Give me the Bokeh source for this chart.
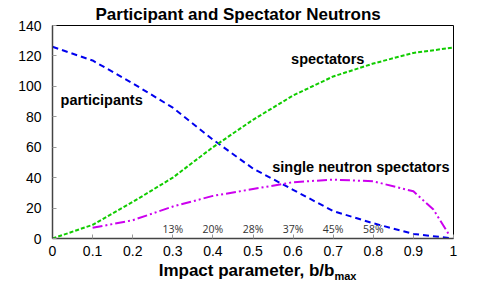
from bokeh.plotting import figure
from bokeh.layouts import column
from bokeh.models import Label, FixedTicker, ColumnDataSource
from bokeh.embed import file_html
from bokeh.resources import INLINE
from bokeh.core.properties import value

# data
b = [0, 0.1, 0.2, 0.3, 0.4, 0.5, 0.6, 0.7, 0.8, 0.9, 1.0]
participants = [126, 117, 102, 86, 65, 46, 32, 18, 10, 3, 0]
spectators = [0, 9, 24, 40, 60, 78, 94, 106.5, 115, 122, 125.5]
b_single = [0.1, 0.2, 0.3, 0.4, 0.5, 0.6, 0.7, 0.8, 0.9, 0.95, 0.99]
single = [7, 12, 21, 28, 32.5, 37, 38.7, 37.6, 31, 19, 2]
pct_x = [0.3, 0.4, 0.5, 0.6, 0.7, 0.8]
pct_labels = ["13%", "20%", "28%", "37%", "45%", "58%"]
x_ticks = [0, 0.1, 0.2, 0.3, 0.4, 0.5, 0.6, 0.7, 0.8, 0.9, 1.0]
x_tick_labels = ["0", "0.1", "0.2", "0.3", "0.4", "0.5", "0.6", "0.7", "0.8", "0.9", "1"]
y_ticks = [0, 20, 40, 60, 80, 100, 120, 140]

FONT = "Liberation Sans"

p = figure(width=469, height=260, x_range=(0, 1), y_range=(0, 140),
           output_backend="svg", toolbar_location=None,
           min_border_left=52, min_border_right=16, min_border_top=25, min_border_bottom=22,
           title="Participant and Spectator Neutrons")
p.title.text_font = FONT
p.title.text_font_size = "17px"
p.title.text_font_style = "bold"
p.title.text_color = "black"
p.title.align = "left"
p.title.offset = 43
p.title.standoff = 4

p.xgrid.visible = False
p.ygrid.visible = False
p.outline_line_color = "black"
p.outline_line_width = 1

for ax in (p.xaxis[0], p.yaxis[0]):
    ax.major_tick_in = 4
    ax.major_tick_out = 0
    ax.minor_tick_line_color = None
    ax.major_tick_line_color = "#999999"
    ax.axis_line_color = "#444444"
    ax.axis_line_width = 1.5
    ax.major_label_text_font = FONT
    ax.major_label_text_font_size = "14px"
    ax.major_label_text_color = "black"
p.yaxis.major_label_standoff = 11
p.xaxis.major_label_standoff = 7

p.xaxis.ticker = FixedTicker(ticks=x_ticks)
p.xaxis.major_label_overrides = {t: l for t, l in zip(x_ticks, x_tick_labels)}
p.yaxis.ticker = FixedTicker(ticks=y_ticks)

p.line(b, participants, line_color="#0000ee", line_width=2, line_dash="6 4")
p.line(b, spectators, line_color="#11cc00", line_width=2, line_dash="4 2")
p.line(b_single, single, line_color="#cc00ee", line_width=2, line_dash="10 3 2 3 2 3")

src = ColumnDataSource(dict(x=pct_x, y=[6.5] * len(pct_x), t=pct_labels))
p.text(x="x", y="y", text="t", source=src, text_font=value("Open Sans"),
       text_font_size="10.5px", text_color="#333333", text_align="center",
       text_baseline="middle")

for txt, x, y in [("participants", 0.02, 91), ("spectators", 0.595, 118),
                  ("single neutron spectators", 0.548, 47)]:
    p.add_layout(Label(x=x, y=y, text=txt, text_font=FONT, text_font_size="14.5px",
                       text_font_style="bold", text_baseline="middle", text_color="black"))

# x axis label (with subscript) in a strip below the chart
p2 = figure(width=469, height=22, x_range=(0, 1), y_range=(0, 1),
            output_backend="svg", toolbar_location=None,
            x_axis_type=None, y_axis_type=None,
            min_border_left=52, min_border_right=16, min_border_top=0, min_border_bottom=0)
p2.outline_line_color = None
p2.xgrid.visible = False
p2.ygrid.visible = False
p2.add_layout(Label(x=0.703, y=0.55, text="Impact parameter, b/b", text_font=FONT,
                    text_font_size="17px", text_font_style="bold", text_align="right",
                    text_baseline="middle", text_color="black"))
p2.add_layout(Label(x=0.703, y=0.3, text="max", text_font=FONT,
                    text_font_size="11px", text_font_style="bold", text_align="left",
                    text_baseline="middle", text_color="black"))

layout = column(p, p2, spacing=0)
open("out.html", "w").write(file_html(layout, INLINE))
